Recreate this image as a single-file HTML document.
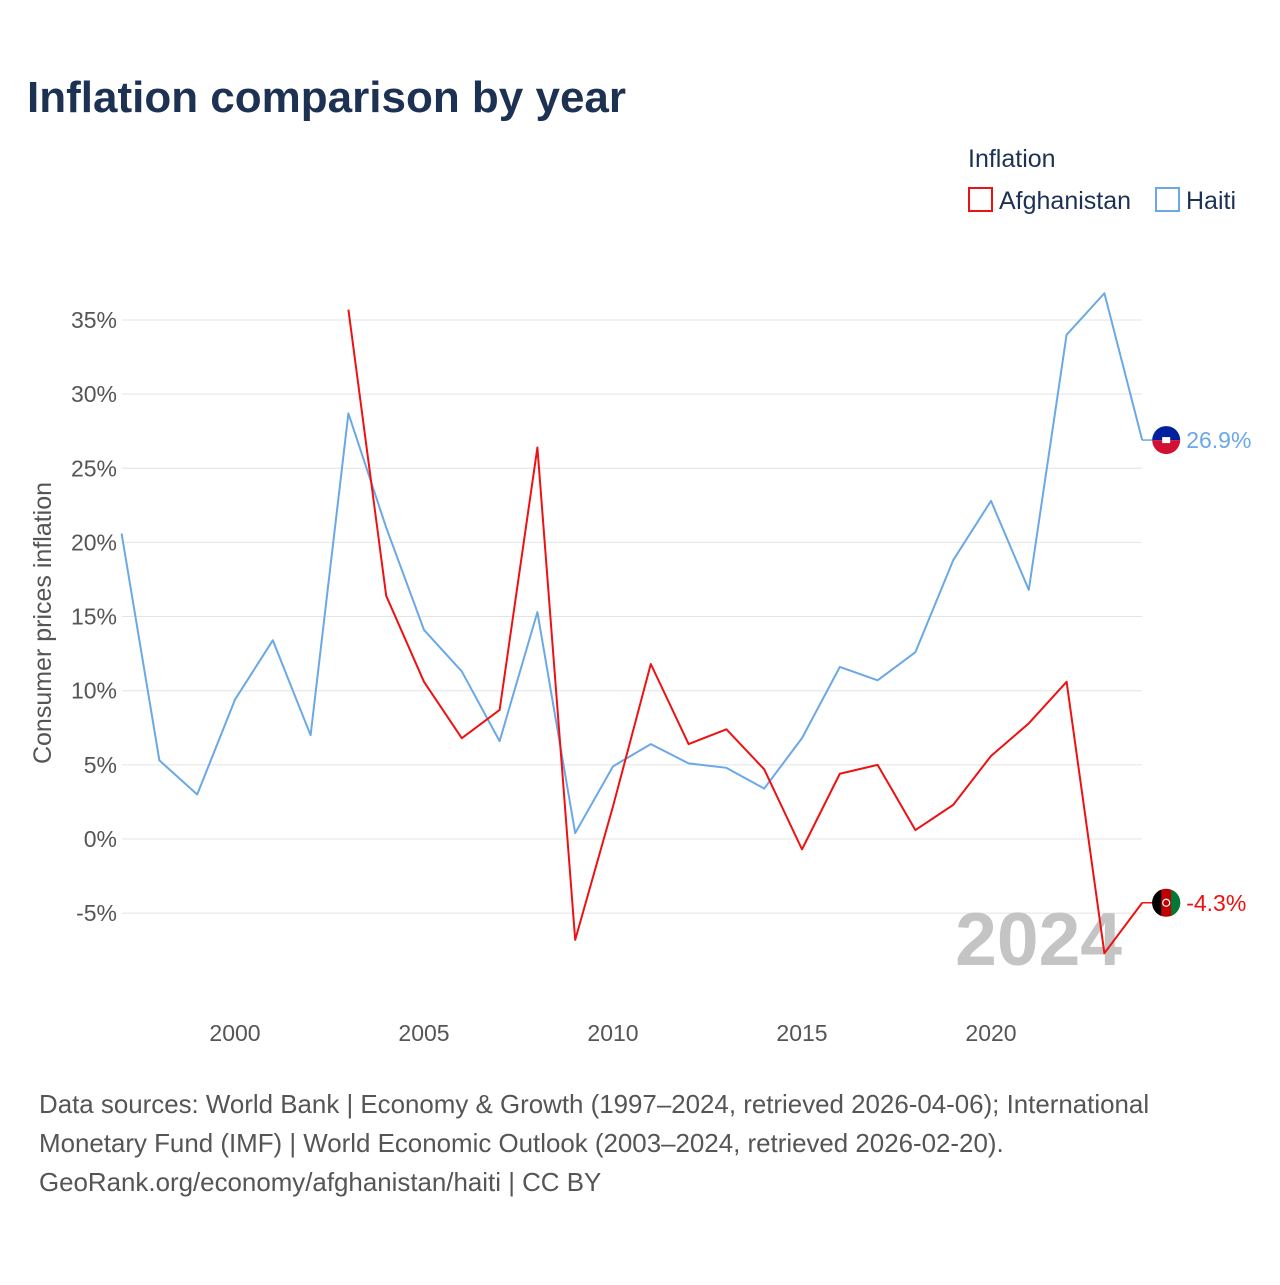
<!DOCTYPE html>
<html><head><meta charset="utf-8"><style>
body{margin:0;background:#fff;font-family:"Liberation Sans",sans-serif;}
</style></head><body>
<svg width="1280" height="1280" viewBox="0 0 1280 1280" xmlns="http://www.w3.org/2000/svg">
<rect width="1280" height="1280" fill="#fff"/>
<text x="27" y="112" font-size="44" font-weight="bold" fill="#1d3153">Inflation comparison by year</text>
<g font-size="25" fill="#1d3153">
<text x="968" y="167">Inflation</text>
<g><rect x="969" y="188" width="23" height="23" fill="none" stroke="#ee1111" stroke-width="2"/><text x="999" y="209">Afghanistan</text></g>
<g><rect x="1156" y="188" width="23" height="23" fill="none" stroke="#6aa8e6" stroke-width="2"/><text x="1186" y="209">Haiti</text></g>
</g>
<g id="grid"></g>
<g id="yticks" font-size="23" fill="#555" text-anchor="end"></g>
<g id="xticks" font-size="23" fill="#555" text-anchor="middle"></g>
<text transform="translate(51,623) rotate(-90)" font-size="25" fill="#555" text-anchor="middle">Consumer prices inflation</text>
<text x="1122" y="965" font-size="75" font-weight="bold" fill="#c4c4c4" text-anchor="end">2024</text>
<g id="series"></g>
<g font-size="25.9" fill="#555">
<text x="39" y="1113">Data sources: World Bank | Economy &amp; Growth (1997–2024, retrieved 2026-04-06); International</text>
<text x="39" y="1152">Monetary Fund (IMF) | World Economic Outlook (2003–2024, retrieved 2026-02-20).</text>
<text x="39" y="1191">GeoRank.org/economy/afghanistan/haiti | CC BY</text>
</g>
</svg>
<script>
const haitiYears=[1997,1998,1999,2000,2001,2002,2003,2004,2005,2006,2007,2008,2009,2010,2011,2012,2013,2014,2015,2016,2017,2018,2019,2020,2021,2022,2023,2024];
const haitiValues=[20.6,5.3,3.0,9.4,13.4,7.0,28.7,21.0,14.1,11.3,6.6,15.3,0.4,4.9,6.4,5.1,4.8,3.4,6.8,11.6,10.7,12.6,18.8,22.8,16.8,34.0,36.8,26.9];
const afgYears=[2003,2004,2005,2006,2007,2008,2009,2010,2011,2012,2013,2014,2015,2016,2017,2018,2019,2020,2021,2022,2023,2024];
const afgValues=[35.7,16.4,10.6,6.8,8.7,26.4,-6.8,2.2,11.8,6.4,7.4,4.7,-0.7,4.4,5.0,0.6,2.3,5.6,7.8,10.6,-7.7,-4.3];
const yTicks=[-5,0,5,10,15,20,25,30,35];
const xTicks=[2000,2005,2010,2015,2020];
const NS="http://www.w3.org/2000/svg";
const xs=y=>121.6+(y-1997)*37.8;
const ys=v=>839-v*14.83;
function mk(tag,attrs,parent){const e=document.createElementNS(NS,tag);for(const k in attrs)e.setAttribute(k,attrs[k]);parent.appendChild(e);return e;}
const grid=document.getElementById('grid'),yt=document.getElementById('yticks'),xt=document.getElementById('xticks'),ser=document.getElementById('series');
yTicks.forEach(t=>{
 const l=mk('line',{x1:122,x2:1142,y1:ys(t),y2:ys(t),stroke:'#e4e4e4','stroke-width':1},grid);
 
 
 const tx=mk('text',{x:117,y:ys(t)+8},yt);tx.textContent=t+'%';
 
 
});
xTicks.forEach(t=>{
 const tx=mk('text',{x:xs(t),y:1041},xt);tx.textContent=t;
 
 
});
function line(years,vals,color,name){
 const p=mk('polyline',{points:years.map((y,i)=>xs(y)+','+ys(vals[i])).join(' '),fill:'none',stroke:color,'stroke-width':2,'stroke-linejoin':'round'},ser);
 
 
}
line(haitiYears,haitiValues,'#6aa8e6','haiti-line');
line(afgYears,afgValues,'#ee1111','afghanistan-line');
function endLabel(vals,color,name,flag){
 const v=vals[vals.length-1],y=ys(v),x=xs(2024);
 mk('line',{x1:x,x2:x+12,y1:y,y2:y,stroke:color,'stroke-width':1.5},ser);
 const g=mk('g',{},ser);
 
 
 flag(g,x+24,y);
 const t=mk('text',{x:x+44,y:y+8,'font-size':23,fill:color},ser);
 t.textContent=v.toFixed(1)+'%';
 
 
}
endLabel(haitiValues,'#6aa8e6','haiti',(g,cx,cy)=>{
 mk('path',{d:`M${cx-14},${cy} A14,14 0 0 1 ${cx+14},${cy} Z`,fill:'#00209f'},g);
 mk('path',{d:`M${cx-14},${cy} A14,14 0 0 0 ${cx+14},${cy} Z`,fill:'#d21034'},g);
 mk('rect',{x:cx-4,y:cy-3,width:8,height:6,fill:'#fff'},g);
});
endLabel(afgValues,'#ee1111','afghanistan',(g,cx,cy)=>{
 mk('circle',{cx:cx,cy:cy,r:14,fill:'#be0000'},g);
 mk('path',{d:`M${cx-5},${cy-13.1} A14,14 0 0 0 ${cx-5},${cy+13.1} Z`,fill:'#000'},g);
 mk('path',{d:`M${cx+5},${cy-13.1} A14,14 0 0 1 ${cx+5},${cy+13.1} Z`,fill:'#007a36'},g);
 mk('circle',{cx:cx,cy:cy,r:3.5,fill:'none',stroke:'#fff','stroke-width':1.2},g);
});
</script>
</body></html>
